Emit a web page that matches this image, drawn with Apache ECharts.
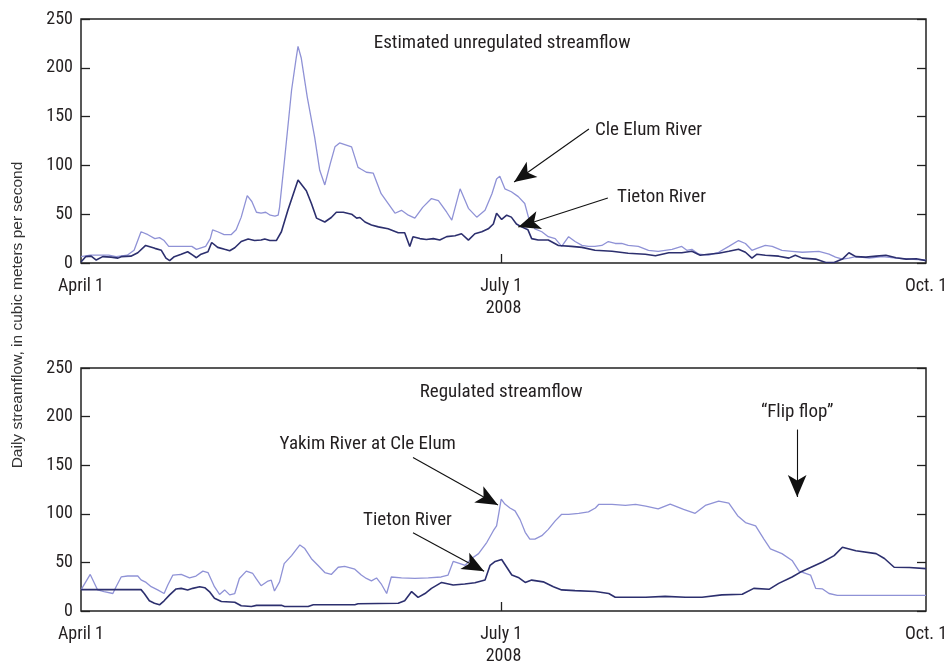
<!DOCTYPE html>
<html>
<head>
<meta charset="utf-8">
<script src="https://cdn.jsdelivr.net/npm/echarts@6/dist/echarts.min.js"></script>
<style>
html,body{margin:0;padding:0;background:#fff;}
#chart{width:951px;height:666px;}
</style>
</head>
<body>
<div id="chart"></div>
<script>
// ---- Data (day index from April 1, 2008; values in cubic meters per second) ----
const xTickDays = [0, 91, 183];
const xTickLabels = ['April 1', 'July 1', 'Oct. 1'];
const yearLabel = '2008';
const yTicks = [0, 50, 100, 150, 200, 250];

// Top panel: estimated unregulated streamflow
const topCleElumDays = [0,2,6,7.6,8,10,11.5,13,14.5,16,17,18,19,24,25,27,28,28.5,29.6,31,32.5,33.6,34.7,36,37,38,39,40,41,42,42.7,43,44,45.6,46.6,47,47.7,49,50.6,51.7,52.8,54,55,56,58.6,60,60.7,61.8,63.3,65,66.5,68,69.4,70.9,72.3,74,75.9,77.4,79.2,80.3,82.1,83.9,85.7,87.5,89,90,90.7,91.8,93.2,94.7,96.1,96.9,98.3,99.8,101.2,102.7,104.1,105.6,107,108.5,109.9,111.3,112.8,114.2,115.7,117.1,118.5,120.7,122.9,125,128,130.1,131.2,132.3,133.8,135.9,138.1,140.3,142.4,143.9,145.3,146.4,148.2,149.7,151.8,154,156.2,159.8,162,163.4,164.9,166.3,167.8,170.7,173.6,176.5,179.4,183];
const topCleElumFlow = [6.5,8,8,6.5,5,8,13,32,29,25,26,23,17,17,14,17,25,34,32,29,29,34,47,69,63,52,51,52,49,48,49,57,102,177,210,222,210,170,129,95,80,102,119,123,119,98,96,93,92,71,61,51,54,49,46,57,66,64,52,44,76,56,47,54,71,86,89,76,73,68,61,47,35,32,27,25,17,27,22,18,17,17,18,22,20,20,18,17,13,12,14,17,13,14,9,8,11,17,23,20,13,15,18,17,13,12,11,12,9,6,4,5,6.5,5,6.5,5,4,3];

const topTietonDays = [0,1,2.2,3.3,4.7,6.5,8,8.7,10.8,12.3,14,16,17.4,18.4,19.2,20.2,21.7,23.1,24.2,25,26,27.5,28.3,29.6,31.1,32.2,33.3,34.7,36.2,37.6,39,39.8,40.9,42.3,43.4,44.8,47,48.8,49.9,51,52.8,54.2,55.3,56.8,58.6,59.7,60.4,61.5,62.9,64.4,66.5,68.7,70.1,71.2,71.9,73.4,74.8,76.3,77.7,79.2,81,82.4,83.9,85.3,86.8,88.2,89.3,90,91.1,92.2,93.2,94.3,95.4,96.8,97.6,99,101.2,103.4,106.2,108.5,111.3,115,118.5,122.2,124.4,127.3,130.1,132.3,134.1,135.9,138.1,140.3,142.4,143.9,145.3,146.4,148.2,151.1,153.3,154.7,156.2,159.1,161.3,163.1,164.9,166.3,167.8,170,172.2,174.3,176.5,178.7,180.9,183];
const topTietonFlow = [1,6.5,7,3,6.5,6,5,6.5,7,10.5,18,15,13,5,2.4,6.5,9,11.5,8,5.4,9,11.5,21,16,14,12.6,15.6,22,24.5,23,23.5,24.5,23,23,32,54,85,74,61,46,42,46.6,52,52,50,46,46.6,42,39,37,35,31,31,17,27,25,24,25,23.5,27,28,30,23.5,30,32,35,40,51,44.6,49,47,40,37,34,25,23.5,23.5,18,17,16,13,12,10,9,7.5,10.5,10.5,12,8,9,10,12,14,11,5,9,8,7,5,8,5,4,0.5,0.5,4,10.5,6.5,6,7,8,5.4,4,4.4,2.4];

// Bottom panel: regulated streamflow
const botYakimaDays = [0,2,3.6,5,6.9,7.6,8.7,10.1,12.3,13,14.1,15.2,16.6,18,18.8,19.9,21.7,23.5,24.9,26.4,27.5,28.9,30,31.1,32.2,33.3,34.3,35.8,37.2,37.9,39,40.5,41.2,41.9,43,44,45.6,47.4,48.4,49.9,51.3,52.8,54.2,55.7,57.1,59.3,60.7,61.8,62.9,64,65,66.2,67.2,69.4,72.3,75.2,78,79.5,80.6,82.1,83.2,84.6,86.1,87.9,89.3,90,90.5,91,91.8,92.9,94,95.1,96.2,97.2,98.3,99.8,101.2,102.7,104.1,105.6,107.8,109.9,111.4,112.1,115,117.9,120.1,122.3,125,127.6,130.5,133,135.2,138.1,140.3,142.2,143.9,146.1,147.9,149.3,151.8,154,155.5,158,159.1,160.6,162,163.8,172.2,183];
const botYakimaFlow = [21.7,37.6,21.7,20,18,25,35,36,36,32,29.4,25,21.7,18,26.7,37,37.6,34,36,41,39.6,25,17,21.7,16.6,18,33.5,41,38.6,33.5,26,30.8,31.8,20.6,30,48.7,57,68,64.6,53.8,47,39.6,37.6,45,46,43,37,33.5,31,34,28,18,35,34,33.5,34,35,37,51,48.7,47,54,59,70.7,82.6,87.6,101,115,110,106,103,94,81,74,74,77.5,84,92.7,99.5,99.5,100.5,102,106,109.6,109.6,108.6,109.6,108,105,110,104.6,100.5,108.6,113,111,98,91,87.6,74,64,59,52,41,37,23.3,22.7,18,16,16,16];

const botTietonDays = [0,13,13.7,14.8,15.9,17,18,19.2,20.6,21.7,23.1,24.2,25.7,26.8,27.8,28.9,30.4,33.3,34.7,36.9,38,43.4,44.1,49.2,50.3,59.3,60,68.7,70.1,71.6,73,74.5,75.9,78.1,80.6,83.1,85.3,87.5,88.6,89.7,91.1,92.2,93.3,94.7,96.2,97.6,100.1,102.3,104.1,107,111.4,114.3,115.7,122.3,126.5,130.9,134.5,138.8,143.2,145.7,149,151.1,154,156.2,160.6,163.1,164.9,167.8,172.2,174,176.1,179.4,183];
const botTietonFlow = [22,22,18,10.5,8,6.4,10.5,16.6,22.7,23.3,21.7,23.3,25,24,20,13.2,9.8,9,5.4,4.7,5.8,5.8,4.7,4.7,6.4,6.4,7.4,8,10.5,20,14,18,23.3,29.4,26.7,27.7,29,31.8,47,51,53,45,37,34.5,29.4,31.8,30,25,21.7,21,20,18,14.2,14.2,15,14.2,14.2,16.6,17.3,23.3,22.3,28.4,35,41,50.4,57,65.6,62,59,54,45,44.7,43.6];

// ---- Chart ----
const zip = (a, b) => a.map((d, i) => [d, b[i]]);
const LIGHT = '#8f92d6';
const DARK = '#2c2f6e';
const TXT = '#231f20';
const NARROW = "'Liberation Sans Narrow','Roboto Condensed','DejaVu Sans Condensed',sans-serif";

function xAxisFor(g) {
  return {
    type: 'value', gridIndex: g, min: 0, max: 183,
    splitLine: {show: false},
    axisLine: {show: false},
    axisTick: {show: true, inside: true, length: 9, customValues: [91], lineStyle: {color: '#222', width: 1.3}},
    axisLabel: {
      show: true, customValues: xTickDays, margin: 14,
      formatter: v => xTickLabels[xTickDays.indexOf(v)] || '',
      color: TXT, fontFamily: NARROW, fontSize: 18
    },
    name: yearLabel, nameLocation: 'middle', nameGap: 36,
    nameTextStyle: {color: TXT, fontFamily: NARROW, fontSize: 18}
  };
}
function yAxisFor(g, pos) {
  return {
    type: 'value', gridIndex: g, min: 0, max: 250, interval: 50, position: pos,
    splitLine: {show: false},
    axisLine: {show: false},
    axisTick: {show: true, inside: true, length: 9, lineStyle: {color: '#222', width: 1.3}},
    axisLabel: {show: pos === 'left', margin: 8, color: TXT, fontFamily: NARROW, fontSize: 18}
  };
}
const arrowML = (pairs) => ({
  silent: true, symbol: ['none', 'arrow'], symbolSize: [14, 22],
  label: {show: false},
  lineStyle: {color: '#111', width: 1.1, type: 'solid'},
  emphasis: {disabled: true},
  data: pairs.map(p => [{coord: p[0]}, {coord: p[1]}])
});

const chart = echarts.init(document.getElementById('chart'), null, {renderer: 'canvas'});
const option = {
  animation: false,
  backgroundColor: '#fff',
  grid: [
    {left: 81, right: 25, top: 19, height: 244, show: true, borderColor: '#222', borderWidth: 1.5, backgroundColor: 'transparent'},
    {left: 81, right: 25, top: 368, height: 245, show: true, borderColor: '#222', borderWidth: 1.5, backgroundColor: 'transparent'}
  ],
  xAxis: [xAxisFor(0), xAxisFor(1)],
  yAxis: [yAxisFor(0, 'left'), yAxisFor(0, 'right'), yAxisFor(1, 'left'), yAxisFor(1, 'right')],
  series: [
    {type: 'line', name: 'Cle Elum River', xAxisIndex: 0, yAxisIndex: 0, data: zip(topCleElumDays, topCleElumFlow),
     showSymbol: false, lineStyle: {color: LIGHT, width: 1.3}, z: 2,
     markLine: arrowML([[[110, 137.3], [93.8, 83]], [[114.1, 66.6], [94.7, 36.9]]])},
    {type: 'line', name: 'Tieton River', xAxisIndex: 0, yAxisIndex: 0, data: zip(topTietonDays, topTietonFlow),
     showSymbol: false, lineStyle: {color: DARK, width: 1.6}, z: 3},
    {type: 'line', name: 'Yakima River at Cle Elum', xAxisIndex: 1, yAxisIndex: 2, data: zip(botYakimaDays, botYakimaFlow),
     showSymbol: false, lineStyle: {color: LIGHT, width: 1.3}, z: 2,
     markLine: arrowML([[[71.9, 158], [90.3, 109]], [[71.9, 80.6], [87.3, 40.8]], [[155.1, 186.7], [155.1, 117.3]]])},
    {type: 'line', name: 'Tieton River (regulated)', xAxisIndex: 1, yAxisIndex: 2, data: zip(botTietonDays, botTietonFlow),
     showSymbol: false, lineStyle: {color: DARK, width: 1.6}, z: 3}
  ]
};
chart.setOption(option);

// Annotation texts placed in data coordinates
const notes = [
  {g: 0, at: [91.2, 225.4], text: 'Estimated unregulated streamflow', align: 'center'},
  {g: 0, at: [111.3, 136.3], text: 'Cle Elum River', align: 'left'},
  {g: 0, at: [116.1, 67.6], text: 'Tieton River', align: 'left'},
  {g: 1, at: [91, 225.5], text: 'Regulated streamflow', align: 'center'},
  {g: 1, at: [62.1, 171.4], text: 'Yakim River at Cle Elum', align: 'center'},
  {g: 1, at: [70.7, 92.9], text: 'Tieton River', align: 'center'},
  {g: 1, at: [155.1, 204], text: '\u201CFlip flop\u201D', align: 'center'}
];
const graphics = notes.map(n => {
  const p = chart.convertToPixel({gridIndex: n.g}, n.at);
  return {type: 'text', x: p[0], y: p[1], silent: true,
    style: {text: n.text, fill: TXT, font: '19px ' + NARROW, textAlign: n.align, textVerticalAlign: 'middle'}};
});
graphics.push({type: 'text', x: 18, y: 315, rotation: Math.PI / 2, silent: true,
  style: {text: 'Daily streamflow, in cubic meters per second', fill: '#333',
    font: "15.5px 'Liberation Sans',Arial,sans-serif", textAlign: 'center', textVerticalAlign: 'middle'}});
chart.setOption({graphic: graphics});
</script>
</body>
</html>
